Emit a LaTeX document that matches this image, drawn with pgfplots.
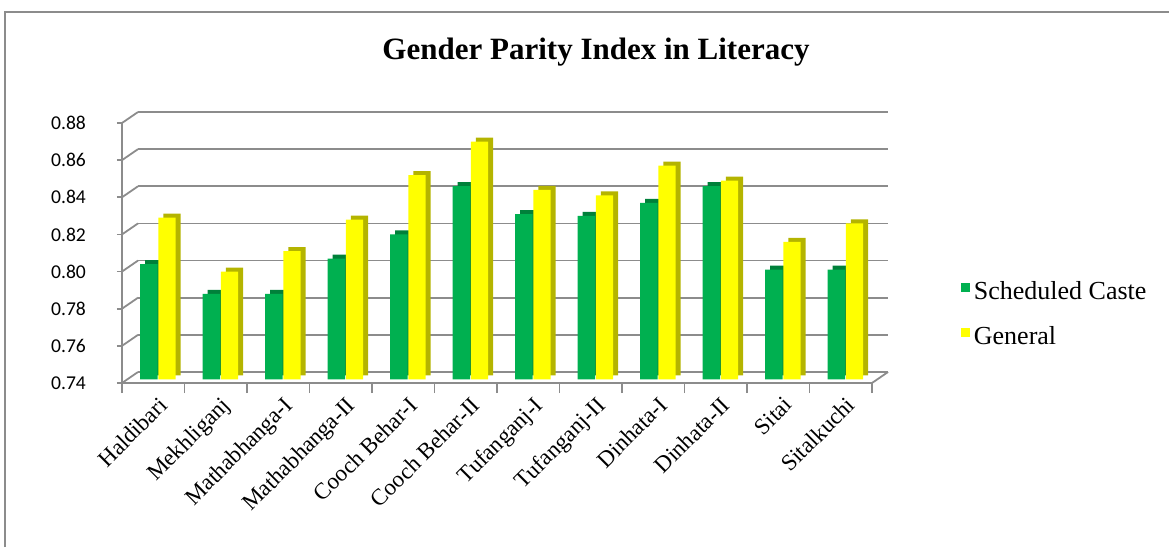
\documentclass[border=0pt]{standalone}
\usepackage{fontspec}
\setmainfont{Liberation Serif}
\newfontfamily\tickfont{Carlito}
\usepackage{pgfplots}
\usepackage{pgfplotstable}
\pgfplotsset{compat=1.18}

\definecolor{scgreen}{HTML}{00B050}
\definecolor{scgreendark}{HTML}{00803A}
\definecolor{genyellow}{HTML}{FFFF00}
\definecolor{genyellowdark}{HTML}{B4B400}
\definecolor{gridgray}{HTML}{8C8C8C}

% gender parity index, scheduled caste vs general
\pgfplotstableread{
idx sc    gen
0   0.802 0.827
1   0.786 0.798
2   0.786 0.809
3   0.805 0.826
4   0.818 0.850
5   0.844 0.868
6   0.829 0.842
7   0.828 0.839
8   0.835 0.855
9   0.844 0.847
10  0.799 0.814
11  0.799 0.824
}\gpidata

\begin{document}
\begin{tikzpicture}
\useasboundingbox (0,0) rectangle (584.5pt,273.5pt);
\draw[gridgray, line width=1pt] (2.5pt,0) -- (2.5pt,267.5pt) -- (590pt,267.5pt);
\node[font=\bfseries\fontsize{15.5}{18}\selectfont] at (298pt,247.5pt) {Gender Parity Index in Literacy};
\begin{axis}[
    at={(61pt,82pt)}, anchor=south west,
    width=375pt, height=130pt, scale only axis,
    clip=false,
    ymin=0.74, ymax=0.88,
    ytick={0.74,0.76,0.78,0.80,0.82,0.84,0.86,0.88},
    xmin=-0.5, xmax=11.5,
    xtick={0,...,11},
    xticklabels={Haldibari,Mekhliganj,Mathabhanga-I,Mathabhanga-II,Cooch Behar-I,Cooch Behar-II,Tufanganj-I,Tufanganj-II,Dinhata-I,Dinhata-II,Sitai,Sitalkuchi},
    minor xtick={-0.5,0.5,...,11.5},
    axis x line*=bottom, axis y line*=left,
    axis line style={gridgray, line width=0.9pt, -},
    tick align=outside,
    major tick length=2.5pt, minor tick length=5pt,
    every tick/.style={gridgray, line width=0.9pt},
    every minor tick/.style={gridgray, line width=0.9pt},
    every major x tick/.style={draw=none},
    ymajorgrids,
    major grid style={gridgray, line width=0.9pt, xshift=8pt, yshift=5.5pt},
    /pgf/number format/assume math mode=true,
    yticklabel={\pgfmathprintnumber[fixed,fixed zerofill,precision=2]{\tick}},
    yticklabel style={font=\tickfont\fontsize{9.8}{11}\selectfont, xshift=-12pt},
    xticklabel style={rotate=45, anchor=north east, font=\fontsize{11.5}{13}\selectfont,
                      yshift=-3pt, inner sep=1pt},
    legend style={at={(1.11,0.265)}, anchor=west, draw=none, fill=none,
                  font=\fontsize{13}{15}\selectfont, row sep=8pt},
    legend cell align=left,
]
\addplot[ybar, bar width=8.7pt, bar shift=-2.2pt, fill=scgreendark, draw=none,
    xshift=2.5pt, yshift=3.85pt, forget plot] table[x=idx, y=sc] {\gpidata};
\addplot[ybar, bar width=8.7pt, bar shift=-2.2pt, fill=scgreen, draw=none, yshift=1.85pt,
    legend image code/.code={\fill[scgreen] (0pt,-2pt) rectangle (4.5pt,2.5pt);}]
    table[x=idx, y=sc] {\gpidata};
\addplot[ybar, bar width=8.7pt, bar shift=6.85pt, fill=genyellowdark, draw=none,
    xshift=2.5pt, yshift=3.85pt, forget plot] table[x=idx, y=gen] {\gpidata};
\addplot[ybar, bar width=8.7pt, bar shift=6.85pt, fill=genyellow, draw=none, yshift=1.85pt,
    legend image code/.code={\fill[genyellow] (0pt,-2pt) rectangle (4.5pt,2.5pt);}]
    table[x=idx, y=gen] {\gpidata};
\legend{Scheduled Caste, General}
% slanted edges of the back wall
\pgfplotsinvokeforeach{0.74,0.76,0.78,0.80,0.82,0.84,0.86,0.88}{
  \draw[gridgray, line width=0.9pt] (axis cs:-0.5,#1) -- ++(8pt,5.5pt);
}
\draw[gridgray, line width=0.9pt] (axis cs:11.5,0.74) -- ++(8pt,5.5pt);
\end{axis}
\end{tikzpicture}
\end{document}
